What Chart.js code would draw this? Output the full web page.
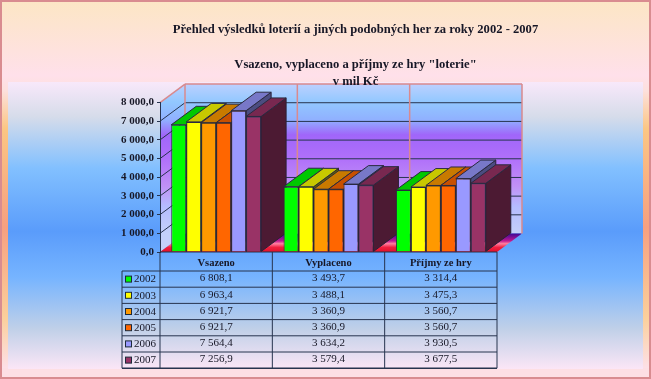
<!DOCTYPE html>
<html lang="cs">
<head>
<meta charset="utf-8">
<title>Přehled výsledků loterií</title>
<style>
html,body{margin:0;padding:0;width:651px;height:379px;overflow:hidden;background:#fde0e4}
canvas{display:block;filter:blur(0.55px)}
</style>
<script src="https://cdn.jsdelivr.net/npm/chart.js@4"></script>
</head>
<body>
<canvas id="c" width="651" height="379"></canvas>
<script>
const categories = ['Vsazeno', 'Vyplaceno', 'Příjmy ze hry'];
const years = ['2002', '2003', '2004', '2005', '2006', '2007'];
const v2002 = [6808.1, 3493.7, 3314.4];
const v2003 = [6963.4, 3488.1, 3475.3];
const v2004 = [6921.7, 3360.9, 3560.7];
const v2005 = [6921.7, 3360.9, 3560.7];
const v2006 = [7564.4, 3634.2, 3930.5];
const v2007 = [7256.9, 3579.4, 3677.5];
const seriesValues = [v2002, v2003, v2004, v2005, v2006, v2007];
const titleLines = ['Přehled výsledků loterií a jiných podobných her za roky 2002 - 2007', '', 'Vsazeno, vyplaceno a příjmy ze hry "loterie"', 'v mil Kč'];
const frontColors = ['#00ff00', '#ffff00', '#ff9900', '#ff6600', '#9999ff', '#993366'];
const topColors = ['#00c800', '#c8c800', '#c87a00', '#c85000', '#7878c8', '#782850'];
const sideColors = ['#006400', '#646400', '#643c00', '#642800', '#4c4c80', '#4c1a33'];

const DX = 25, DY = -18.5;
const INK = '#171726', LINE = '#27344f';
const fmt = v => {
  const [a, b] = Math.abs(v).toFixed(1).split('.');
  return a.replace(/\B(?=(\d{3})+$)/g, ' ') + ',' + b;
};
function poly(ctx, pts, fill, stroke) {
  ctx.beginPath();
  pts.forEach((p, i) => i ? ctx.lineTo(p[0], p[1]) : ctx.moveTo(p[0], p[1]));
  ctx.closePath();
  if (fill) { ctx.fillStyle = fill; ctx.fill(); }
  if (stroke) { ctx.strokeStyle = stroke; ctx.stroke(); }
}
function line(ctx, x1, y1, x2, y2, color, w) {
  ctx.beginPath(); ctx.moveTo(x1, y1); ctx.lineTo(x2, y2);
  ctx.strokeStyle = color; ctx.lineWidth = w || 1; ctx.stroke();
}

const scenePlugin = {
  id: 'scene',
  afterLayout(chart) {
    // the title is centred on the whole frame, not on the plot
    if (chart.titleBlock) { chart.titleBlock.left = 60; chart.titleBlock.right = chart.width; }
  },
  beforeDraw(chart) {
    const { ctx, chartArea: a, scales: { x, y } } = chart;
    const W = chart.width, H = chart.height;
    ctx.save();
    // page frame
    let g = ctx.createLinearGradient(0, 0, 0, H);
    [[0, '#fce6c4'], [0.2, '#ffe0ea'], [0.24, '#fde0dc'], [0.34, '#fbc684'], [0.6, '#f6a080'], [0.84, '#fbd09c'], [0.97, '#fde0e6'], [1, '#fde0e6']]
      .forEach(s => g.addColorStop(s[0], s[1]));
    ctx.fillStyle = g; ctx.fillRect(0, 0, W, H);
    ctx.fillStyle = '#fddfe4'; ctx.fillRect(2, 368, W - 4, 9);
    // inner panel
    g = ctx.createLinearGradient(0, 82, 0, 369);
    [[0, '#f8e8fa'], [0.12, '#d6dcea'], [0.3, '#82c0ff'], [0.52, '#5a9cfb'], [0.68, '#76b4ff'], [0.86, '#c0d0e8'], [1, '#fbe6f6']]
      .forEach(s => g.addColorStop(s[0], s[1]));
    ctx.fillStyle = g; ctx.fillRect(8, 82, W - 16, 287);
    ctx.strokeStyle = '#d98c90'; ctx.lineWidth = 2; ctx.strokeRect(1, 1, W - 2, H - 2);

    // walls and floor
    const L = a.left, R = a.right, T = y.getPixelForValue(8000), B = y.getPixelForValue(0);
    const wall = () => {
      const w = ctx.createLinearGradient(0, T + DY, 0, B + DY);
      [[0, '#bcd0ff'], [0.12, '#92c8ff'], [0.24, '#90b0ff'], [0.34, '#a066fa'], [0.5, '#b070fa'], [0.68, '#c090f6'], [0.82, '#b4bcff'], [1, '#c4d0fa']]
        .forEach(s => w.addColorStop(s[0], s[1]));
      return w;
    };
    poly(ctx, [[L, T], [L + DX, T + DY], [L + DX, B + DY], [L, B]], wall());
    poly(ctx, [[L + DX, T + DY], [R + DX, T + DY], [R + DX, B + DY], [L + DX, B + DY]], wall());
    const f = ctx.createLinearGradient(0, B, 0, B + DY);
    [[0, '#e0102a'], [0.25, '#f02040'], [0.45, '#ff80a0'], [0.6, '#c01890'], [1, '#3c0898']].forEach(s => f.addColorStop(s[0], s[1]));
    poly(ctx, [[L, B], [R, B], [R + DX, B + DY], [L + DX, B + DY]], f);
    // gridlines on the walls
    y.ticks.forEach(t => {
      const py = y.getPixelForValue(t.value);
      if (t.value > 0 && t.value < 8000) {
        line(ctx, L, py, L + DX, py + DY, LINE, 1);
        line(ctx, L + DX, py + DY, R + DX, py + DY, LINE, 1);
      }
    });
    // wall dividers and pink outlines
    const pink = '#d98a8e';
    categories.forEach((c, i) => {
      if (i) {
        const bx = (x.getPixelForValue(i) + x.getPixelForValue(i - 1)) / 2 + DX;
        line(ctx, bx, T + DY, bx, B + DY, pink, 1.5);
      }
    });
    line(ctx, L, T, L + DX, T + DY, pink, 1.5);
    line(ctx, L + DX, T + DY, R + DX, T + DY, pink, 1.5);
    line(ctx, L + DX, T + DY, L + DX, B + DY, pink, 1.5);
    line(ctx, R + DX, T + DY, R + DX, B + DY, pink, 1.5);
    ctx.restore();
  },
  beforeDatasetsDraw(chart) {
    // paint bars left to right so nearer bars cover the sides of farther ones
    const { ctx } = chart;
    categories.forEach((c, k) => {
      years.forEach((yr, i) => {
        const bar = chart.getDatasetMeta(i).data[k];
        const hw = bar.width / 2, xl = bar.x - hw, xr = bar.x + hw, t = bar.y, b = bar.base;
        ctx.save();
        ctx.lineWidth = 1;
        poly(ctx, [[xr, t], [xr + DX, t + DY], [xr + DX, b + DY], [xr, b]], sideColors[i], '#2a2036');
        poly(ctx, [[xl, t], [xl + DX, t + DY], [xr + DX, t + DY], [xr, t]], topColors[i], '#2a2a40');
        ctx.restore();
        bar.draw(ctx);
      });
    });
    return false;
  },
  afterDraw(chart) {
    const { ctx, chartArea: a, scales: { x, y } } = chart;
    const L = a.left, R = a.right, B = y.getPixelForValue(0);
    const edges = categories.map((c, i) => i ? (x.getPixelForValue(i) + x.getPixelForValue(i - 1)) / 2 : L).concat([R]);
    const headH = 19, rowH = 16.2, legL = 122;
    const rowsTop = B + headH, rowsBot = rowsTop + rowH * years.length;
    ctx.save();
    // table rules
    line(ctx, L, B, R, B, LINE, 1);
    edges.forEach(e => line(ctx, e, B, e, rowsBot, LINE, 1));
    line(ctx, legL, rowsTop, legL, rowsBot, LINE, 1);
    years.forEach((yr, r) => line(ctx, legL, rowsTop + rowH * r, R, rowsTop + rowH * r, LINE, 1));
    line(ctx, legL, rowsBot, R, rowsBot, LINE, 1.5);
    // rows
    ctx.textBaseline = 'middle';
    years.forEach((yr, r) => {
      const cy = rowsTop + rowH * (r + 0.5);
      ctx.fillStyle = frontColors[r];
      ctx.strokeStyle = '#1c2a3a'; ctx.lineWidth = 1;
      ctx.fillRect(125.5, cy - 3, 6, 6); ctx.strokeRect(125.5, cy - 3, 6, 6);
      ctx.fillStyle = INK;
      ctx.font = '11px "Liberation Serif"';
      ctx.textAlign = 'left';
      ctx.fillText(yr, 134, cy + 0.5);
      ctx.textAlign = 'center';
      seriesValues[r].forEach((v, c) => ctx.fillText(fmt(v), x.getPixelForValue(c), cy - 0.5));
    });
    ctx.restore();
  }
};

new Chart(document.getElementById('c'), {
  type: 'bar',
  data: {
    labels: categories,
    datasets: years.map((yr, i) => ({
      label: yr,
      data: seriesValues[i],
      backgroundColor: frontColors[i],
      borderColor: '#2a2a40',
      borderWidth: 1,
      categoryPercentage: 0.8,
      barPercentage: 1
    }))
  },
  options: {
    responsive: false,
    animation: false,
    devicePixelRatio: 1,
    layout: { padding: { left: 60, right: 154, top: 0, bottom: 0 } },
    plugins: {
      legend: { display: false },
      tooltip: { enabled: false },
      title: {
        display: true,
        text: titleLines,
        color: INK,
        font: { family: '"Liberation Serif"', size: 12.6, weight: 'bold', lineHeight: 1.38 },
        padding: { top: 21, bottom: 12 }
      }
    },
    scales: {
      x: {
        afterFit: s => { s.height = 127; },
        grid: { display: false, drawTicks: false },
        border: { display: false },
        ticks: {
          color: INK, padding: 5, autoSkip: false, maxRotation: 0,
          font: { family: '"Liberation Serif"', size: 10.5, weight: 'bold' }
        }
      },
      y: {
        min: 0, max: 8000,
        afterFit: s => { s.width = 100; },
        grid: { drawOnChartArea: false, color: LINE, tickLength: 3 },
        border: { color: LINE },
        ticks: {
          stepSize: 1000, color: INK, padding: 3,
          callback: v => fmt(v),
          font: { family: '"Liberation Serif"', size: 11, weight: 'bold' }
        }
      }
    }
  },
  plugins: [scenePlugin]
});
</script>
</body>
</html>
